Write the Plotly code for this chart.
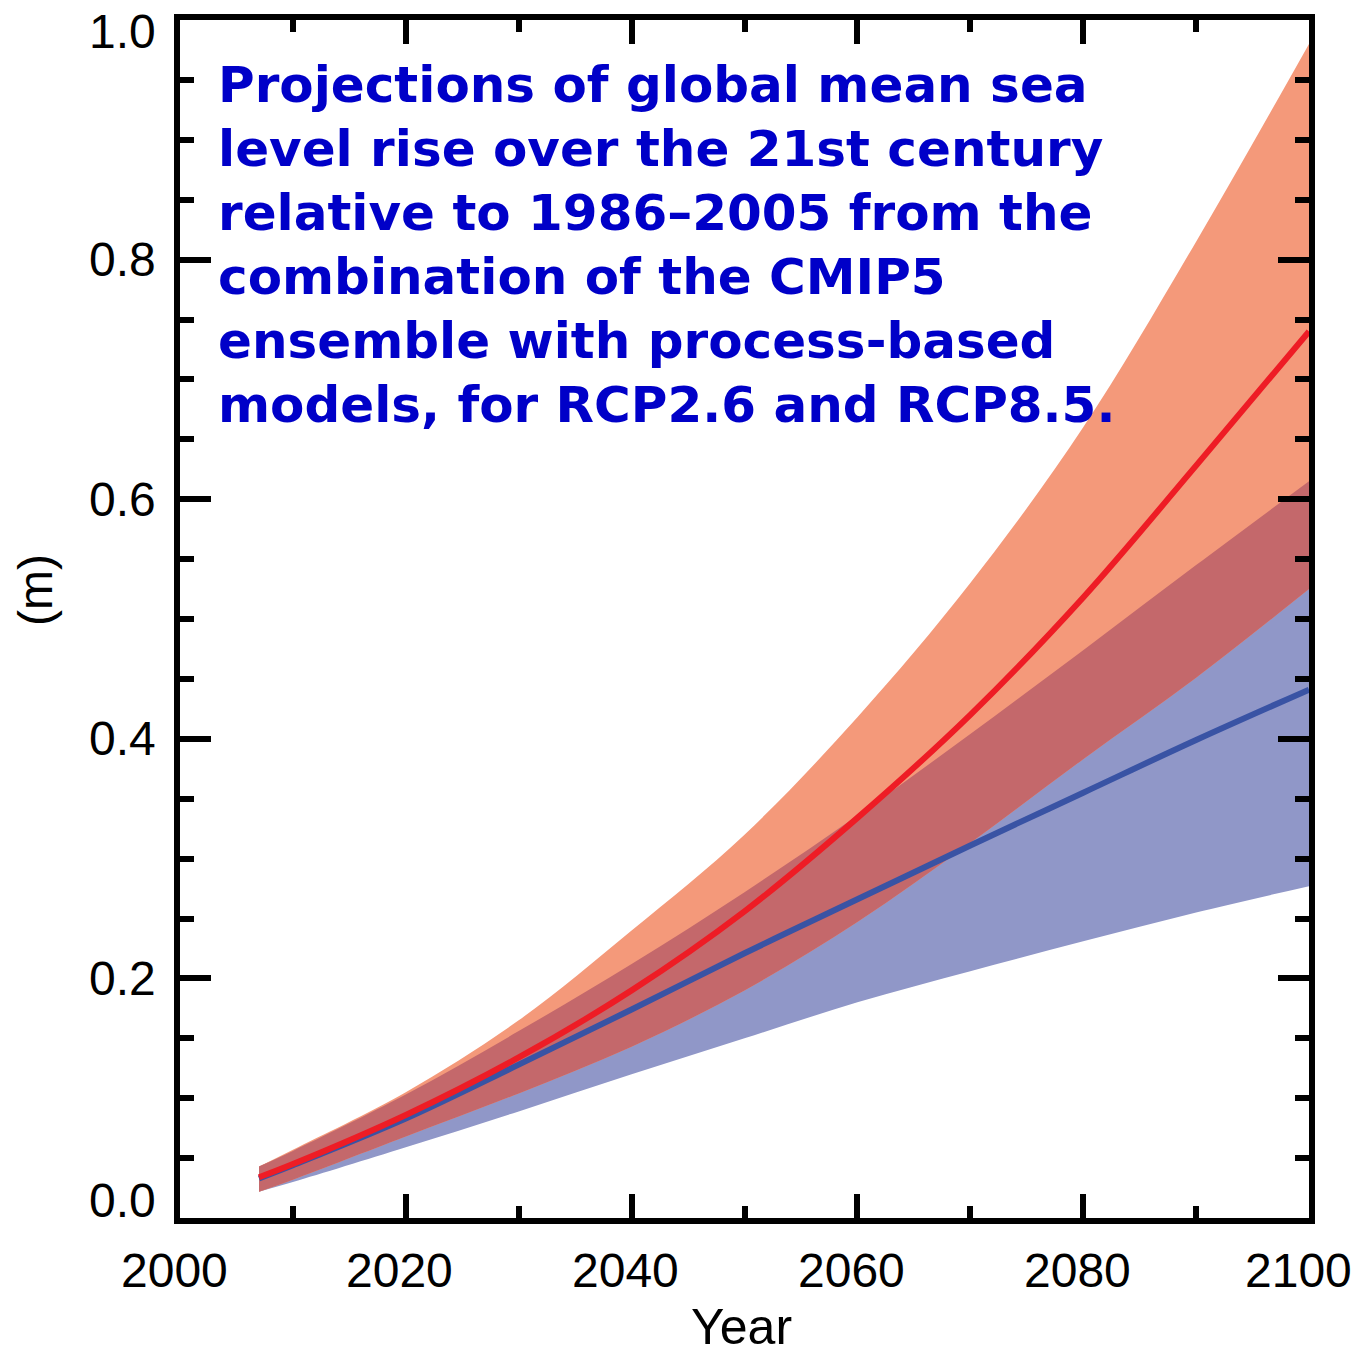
import numpy as np
import plotly.graph_objects as go

# Global mean sea level rise (m) relative to 1986-2005
years = [2007, 2010, 2020, 2030, 2040, 2050, 2060, 2070, 2080, 2090, 2100]

rcp85_median = [0.034, 0.045, 0.086, 0.134, 0.190, 0.256, 0.334, 0.420, 0.518, 0.628, 0.740]
rcp85_upper = [0.043, 0.057, 0.105, 0.165, 0.240, 0.320, 0.418, 0.530, 0.660, 0.815, 0.980]
rcp85_lower = [0.022, 0.032, 0.068, 0.104, 0.143, 0.190, 0.247, 0.313, 0.383, 0.451, 0.525]

rcp26_median = [0.033, 0.044, 0.083, 0.128, 0.174, 0.221, 0.266, 0.311, 0.355, 0.399, 0.441]
rcp26_upper = [0.043, 0.056, 0.103, 0.156, 0.212, 0.272, 0.336, 0.404, 0.474, 0.545, 0.615]
rcp26_lower = [0.022, 0.030, 0.059, 0.089, 0.120, 0.150, 0.180, 0.206, 0.231, 0.255, 0.277]

x_ticks = [2000, 2020, 2040, 2060, 2080, 2100]
x_ticktext = ["2000", "2020", "2040", "2060", "2080", "2100"]
y_ticks = [0.0, 0.2, 0.4, 0.6, 0.8, 1.0]
y_ticktext = ["0.0", "0.2", "0.4", "0.6", "0.8", "1.0"]

title_lines = [
    "Projections of global mean sea",
    "level rise over the 21st century",
    "relative to 1986\u20132005 from the",
    "combination of the CMIP5",
    "ensemble with process-based",
    "models, for RCP2.6 and RCP8.5.",
]

# colours
BLUE_BAND = "#9097C8"
ORANGE_BAND = "#F4997A"
OVERLAP_BAND = "#C4686B"
RED_LINE = "#EE1C25"
BLUE_LINE = "#3953A4"
TITLE_BLUE = "#0000C8"

# overlap of the two likely ranges
ovl_lo = np.maximum(rcp85_lower, rcp26_lower)
ovl_hi = np.minimum(rcp85_upper, rcp26_upper)
ovl_hi = np.maximum(ovl_hi, ovl_lo)

W, H = 1355, 1354
L, R, T, B = 180, 46, 20, 136
plot_w = W - L - R
plot_h = H - T - B


def px_x(px):
    return (px - L) / plot_w


def px_y(py):
    return (H - B - py) / plot_h


def band(lower, upper, color):
    lo = go.Scatter(x=years, y=list(lower), mode="lines", line=dict(width=0, color=color, shape="spline"),
                    hoverinfo="skip", showlegend=False)
    hi = go.Scatter(x=years, y=list(upper), mode="lines", line=dict(width=0, color=color, shape="spline"),
                    fill="tonexty", fillcolor=color, hoverinfo="skip", showlegend=False)
    return [lo, hi]


fig = go.Figure()
for tr in band(rcp26_lower, rcp26_upper, BLUE_BAND):
    fig.add_trace(tr)
for tr in band(rcp85_lower, rcp85_upper, ORANGE_BAND):
    fig.add_trace(tr)
for tr in band(ovl_lo, ovl_hi, OVERLAP_BAND):
    fig.add_trace(tr)

fig.add_trace(go.Scatter(x=years, y=rcp26_median, mode="lines", name="RCP2.6",
                         line=dict(color=BLUE_LINE, width=6, shape="spline"), showlegend=False))
fig.add_trace(go.Scatter(x=years, y=rcp85_median, mode="lines", name="RCP8.5",
                         line=dict(color=RED_LINE, width=6, shape="spline"), showlegend=False))

label_font = dict(family="Liberation Sans, Arial, sans-serif", size=48, color="#000000")

fig.update_xaxes(
    range=[2000, 2100], tickvals=x_ticks, showticklabels=False,
    showline=True, linewidth=6, linecolor="black", mirror="allticks",
    ticks="inside", ticklen=24, tickwidth=6, tickcolor="black",
    minor=dict(dtick=10, tick0=2000, ticks="inside", ticklen=12, tickwidth=6, tickcolor="black", showgrid=False),
    showgrid=False, zeroline=False,
)
fig.update_yaxes(
    range=[0, 1.0], tickvals=y_ticks, showticklabels=False,
    showline=True, linewidth=6, linecolor="black", mirror="allticks",
    ticks="inside", ticklen=31, tickwidth=6, tickcolor="black",
    minor=dict(dtick=0.05, tick0=0, ticks="inside", ticklen=14, tickwidth=6, tickcolor="black", showgrid=False),
    showgrid=False, zeroline=False,
)

annotations = []

# tick labels; the end labels are nudged inward so they stay on the page
for i, (val, txt) in enumerate(zip(x_ticks, x_ticktext)):
    shift = -11 if i == len(x_ticks) - 1 else -6
    annotations.append(dict(
        text=txt, xref="x", yref="paper", x=val, y=px_y(1270), xshift=shift,
        xanchor="center", yanchor="middle", showarrow=False, font=label_font,
    ))
for i, (val, txt) in enumerate(zip(y_ticks, y_ticktext)):
    shift = 18 if i == 0 else (-11 if i == len(y_ticks) - 1 else 0)
    annotations.append(dict(
        text=txt, xref="paper", yref="y", x=px_x(158), y=val, yshift=shift,
        xanchor="right", yanchor="middle", showarrow=False, font=label_font,
    ))

for i, line in enumerate(title_lines):
    baseline = 103 + 64 * i
    annotations.append(dict(
        text=line, xref="paper", yref="paper", x=px_x(216), y=px_y(baseline - 18),
        xanchor="left", yanchor="middle", showarrow=False,
        font=dict(family="DejaVu Sans", size=50, color=TITLE_BLUE, weight="bold"),
    ))

annotations.append(dict(
    text="Year", xref="paper", yref="paper", x=px_x(741), y=px_y(1327),
    xanchor="center", yanchor="middle", showarrow=False,
    font=dict(family="Liberation Sans, Arial, sans-serif", size=50, color="#000000"),
))
annotations.append(dict(
    text="(m)", xref="paper", yref="paper", x=px_x(35), y=px_y(590),
    xanchor="center", yanchor="middle", showarrow=False, textangle=-90,
    font=dict(family="Liberation Sans, Arial, sans-serif", size=48, color="#000000"),
))

fig.update_layout(
    width=W, height=H,
    margin=dict(l=L, r=R, t=T, b=B),
    paper_bgcolor="white", plot_bgcolor="white",
    annotations=annotations,
    showlegend=False,
)

fig.write_html("out.html")
